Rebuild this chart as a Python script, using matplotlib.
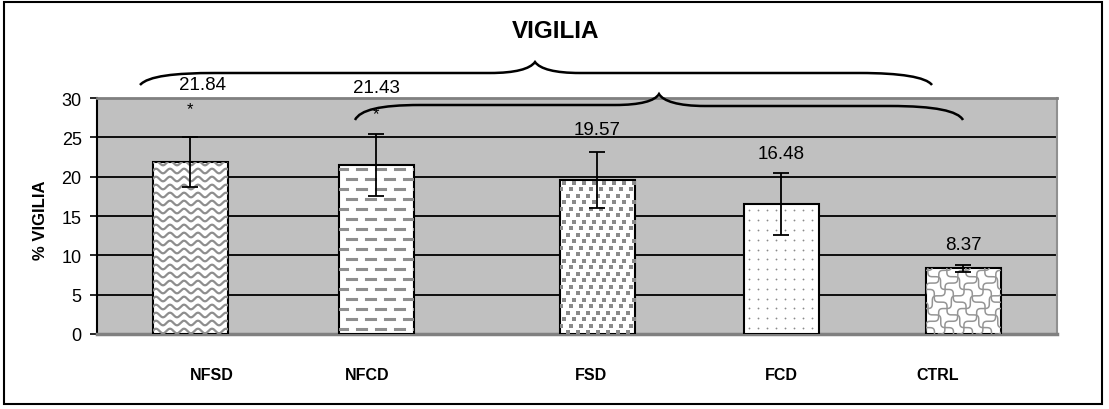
import numpy as np
import matplotlib
matplotlib.use('Agg')
import matplotlib.pyplot as plt
from matplotlib.transforms import IdentityTransform
from matplotlib.path import Path
from matplotlib.patches import PathPatch, Rectangle
from matplotlib.lines import Line2D

# ---------------- data ----------------
categories = ['NFSD', 'NFCD', 'FSD', 'FCD', 'CTRL']
values = [21.84, 21.43, 19.57, 16.48, 8.37]
errors = [3.15, 3.95, 3.6, 3.95, 0.45]
value_labels = ['21.84', '21.43', '19.57', '16.48', '8.37']
significant = [True, True, False, False, False]
yticks = [0, 5, 10, 15, 20, 25, 30]
title = 'VIGILIA'
ylabel = '% VIGILIA'

# ---------------- layout ----------------
plt.rcParams['font.family'] = ['Liberation Sans', 'DejaVu Sans']
W, H = 1109, 410
AX_L, AX_R, AX_T, AX_B = 97, 1057, 99, 335
fig = plt.figure(figsize=(W / 100, H / 100), dpi=100)
ax = fig.add_axes([AX_L / W, (H - AX_B) / H, (AX_R - AX_L) / W, (AX_B - AX_T) / H])
ax.set_xlim(-0.5, 4.5)
ax.set_ylim(0, 30)
unit = (AX_R - AX_L) / 5.0


def px2x(px):
    return (px - AX_L) / unit - 0.5


bar_px = [190, 376, 597, 781, 963]
lab_px = [212, 367, 591, 781, 938]
val_px = [203, 376, 597, 781, 963]
val_y = [31.7, 31.3, 26.0, 22.9, 11.4]
star_y = [28.6, 28.0]
bx = [px2x(p) for p in bar_px]

ax.set_facecolor('#c0c0c0')
ax.yaxis.grid(True, color='black', lw=1.3)
ax.set_axisbelow(True)
ax.set_yticks(yticks)
ax.tick_params(axis='y', direction='out', length=5, width=1.2, labelsize=13, pad=6)
ax.set_xticks([px2x(p) for p in lab_px])
ax.set_xticklabels(categories, fontweight='bold', fontsize=11.5)
ax.tick_params(axis='x', length=0, pad=24)
ax.spines['left'].set_color('black')
ax.spines['left'].set_linewidth(1.5)
ax.spines['top'].set_color('#808080')
ax.spines['top'].set_linewidth(2)
ax.spines['right'].set_color('#909090')
ax.spines['right'].set_linewidth(1.5)
ax.spines['bottom'].set_color('#808080')
ax.spines['bottom'].set_linewidth(2.5)

ax.set_ylabel(ylabel, fontweight='bold', fontsize=12)
ax.yaxis.set_label_coords((48 - AX_L) / (AX_R - AX_L), (AX_B - 220) / (AX_B - AX_T))

bars = ax.bar(bx, values, width=75 / unit, color='white', edgecolor='black',
              linewidth=1.5, zorder=3)
ax.errorbar(bx, values, yerr=errors, fmt='none', ecolor='black', elinewidth=1.3,
            capsize=6, capthick=1.3, zorder=6)

for i, txt in enumerate(value_labels):
    ax.text(px2x(val_px[i]), val_y[i], txt, ha='center', va='center',
            fontsize=13.5, clip_on=False, zorder=7)
for i, s in enumerate(significant):
    if s:
        ax.text(bx[i], star_y[i], '*', ha='center', va='center', fontsize=12, zorder=7)

# ---------------- fill patterns (pixel space, clipped to bars) ----------------
gray = '#8e8e8e'


def bbox(bar):
    (x0, y0), (x1, y1) = ax.transData.transform([(bar.get_x(), 0),
                                                 (bar.get_x() + bar.get_width(), bar.get_height())])
    return x0, y0, x1, y1


def add_line(xs, ys, bar, **kw):
    ln = Line2D(xs, ys, transform=IdentityTransform(), zorder=4, **kw)
    ax.add_artist(ln)
    ln.set_clip_path(bar)


# NFSD: waves
x0, y0, x1, y1 = bbox(bars[0])
xs = np.linspace(x0, x1, 300)
for yy in np.arange(y0 + 3, y1 + 4, 8):
    add_line(xs, yy + 2.3 * np.sin(2 * np.pi * (xs - x0) / 14), bars[0], color=gray, lw=1.6)

# NFCD: dashes
x0, y0, x1, y1 = bbox(bars[1])
for k, yy in enumerate(np.arange(y0 + 5, y1, 10)):
    off = 0 if k % 2 == 0 else 9.5
    xs = []
    ys = []
    for xx in np.arange(x0 - 20 + off, x1 + 20, 19):
        xs += [xx, xx + 9, np.nan]
        ys += [yy, yy, np.nan]
    add_line(xs, ys, bars[1], color=gray, lw=2.2)

# FSD: squares
x0, y0, x1, y1 = bbox(bars[2])
pxs, pys = [], []
for k, yy in enumerate(np.arange(y0 + 2, y1 + 4, 6.5)):
    for xx in np.arange(x0 - 12 + (k % 3) * 3.3, x1 + 10, 10):
        pxs.append(xx)
        pys.append(yy)
add_line(pxs, pys, bars[2], linestyle='none', marker='s', markersize=3.2,
         markerfacecolor='#8a8a8a', markeredgewidth=0)

# FCD: sparse dots
x0, y0, x1, y1 = bbox(bars[3])
pxs, pys = [], []
for k, yy in enumerate(np.arange(y0 + 6, y1, 9.8)):
    for xx in np.arange(x0 + 5, x1, 9):
        pxs.append(xx)
        pys.append(yy)
add_line(pxs, pys, bars[3], linestyle='none', marker='o', markersize=1.3,
         markerfacecolor='#8a8a8a', markeredgewidth=0)

# CTRL: wavy diagonal lattice
x0, y0, x1, y1 = bbox(bars[4])
r = 0.7071
t = np.linspace(0, 160, 800)
wave = 3.0 * np.sin(2 * np.pi * t / 18)
for c in np.arange(x0 - 120, x1 + 10, 19):
    add_line(c + t * r + wave * r, y0 + t * r - wave * r, bars[4], color='#959595', lw=1.1)
for c in np.arange(x0 - 10, x1 + 120, 19):
    add_line(c - t * r + wave * r, y0 + t * r + wave * r, bars[4], color='#959595', lw=1.1)

# ---------------- braces ----------------


def brace(pts_codes):
    verts = [(x, H - y) for (x, y), _ in pts_codes]
    codes = [c for _, c in pts_codes]
    p = PathPatch(Path(verts, codes), transform=IdentityTransform(), fill=False,
                  lw=1.8, ec='black', zorder=8, clip_on=False)
    fig.add_artist(p)


M, L, C = Path.MOVETO, Path.LINETO, Path.CURVE4
brace([((140, 86), M), ((148, 77), C), ((175, 74), C), ((215, 74), C),
       ((490, 74), L), ((515, 74), C), ((530, 70), C), ((535, 63), C),
       ((540, 70), C), ((555, 74), C), ((580, 74), C),
       ((860, 74), L), ((900, 74), C), ((926, 78), C), ((932, 86), C)])
brace([((355, 121), M), ((360, 111), C), ((380, 106), C), ((420, 106), C),
       ((615, 106), L), ((640, 106), C), ((655, 102), C), ((659, 95), C),
       ((663, 102), C), ((678, 107), C), ((705, 107), C),
       ((890, 107), L), ((935, 107), C), ((958, 112), C), ((963, 121), C)])

# ---------------- title & frame ----------------
fig.text(556 / W, 1 - 32 / H, title, ha='center', va='center', fontsize=17.5,
         fontweight='bold')
fig.add_artist(Rectangle((4 / W, (H - 405) / H), 1098 / W, 402 / H,
                         transform=fig.transFigure, fill=False, lw=1.5, ec='black'))

fig.savefig('out.png', dpi=100)
